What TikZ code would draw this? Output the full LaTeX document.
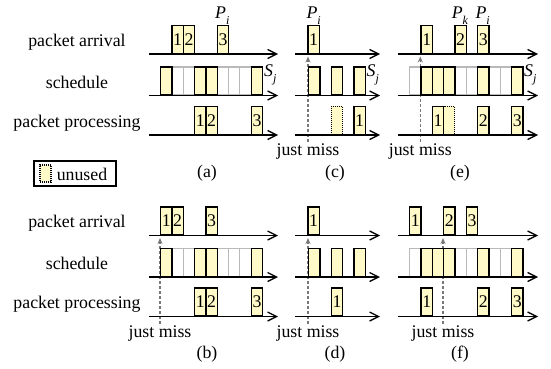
\documentclass[tikz,border=0pt]{standalone}
\usepackage{fontspec}
\setmainfont{Liberation Serif}
\usetikzlibrary{arrows.meta}
\definecolor{slotfill}{RGB}{255,250,200}
\definecolor{idle}{RGB}{185,185,185}
\definecolor{missline}{RGB}{120,120,120}
\newcommand{\slotw}{11.33}
\newcommand{\pk}[1]{\textit{P}\raisebox{-0.32em}{\fontsize{12}{12}\selectfont\textit{#1}}}
\newcommand{\sj}{\textit{S}\raisebox{-0.32em}{\fontsize{12}{12}\selectfont\textit{j}}}
\begin{document}
\begin{tikzpicture}[x=1pt,y=-1pt,
  font=\fontsize{17.8}{20}\selectfont,
  slotbox/.style={draw=black, line width=1.4pt, fill=slotfill,
    minimum width=11.33pt, minimum height=28pt, inner sep=0pt, anchor=south west},
  idlebox/.style={draw=idle, line width=1.1pt,
    minimum width=11.33pt, minimum height=28pt, inner sep=0pt, anchor=south west},
  sparebox/.style={slotbox, line width=1.1pt, dash pattern=on 1pt off 1pt},
  axis/.style={line width=1.5pt, -{Straight Barb[length=9pt,width=9pt,line width=1.3pt]}},
  miss/.style={draw=missline, dash pattern=on 3pt off 2pt, line width=1.1pt,
    -{Stealth[length=6pt,width=5pt]}},
  txt/.style={inner sep=0pt, anchor=center}]
\useasboundingbox (0,0) rectangle (551,369);

% ---------- row labels ----------
\foreach \r/\dy in {t/0, b/181.5} {
  \node[txt] (arr\r) at (77,{42+\dy}) {packet arrival};
  \node[txt] (sch\r) at (77,{82+\dy}) {schedule};
  \node[txt] (pro\r) at (77,{123+\dy}) {packet processing};
}

% ---------- legend ----------
\node[draw, line width=1.3pt, minimum width=82pt, minimum height=25pt, inner sep=0pt] (legend) at (75,173.5) {};
\node[sparebox, anchor=center, minimum width=11pt, minimum height=17pt] (legendbox) at (45.5,173.5) {};
\node[txt] (legendtxt) at (82,174) {unused};

% ---------- captions ----------
\node[txt] (capa) at (207,173) {(a)};
\node[txt] (capc) at (335,173) {(c)};
\node[txt] (cape) at (460,173) {(e)};
\node[txt] (capb) at (207,354.5) {(b)};
\node[txt] (capd) at (335,354.5) {(d)};
\node[txt] (capf) at (460,354.5) {(f)};

% ---------- "just miss" markers ----------
\foreach \n/\x/\dy in {c/308/0, e/420.3/0, b/160/181.5, d/308/181.5, f/443/181.5} {
  \coordinate (missfrom\n) at (\x,{142+\dy});
  \coordinate (missto\n) at (\x,{56.5+\dy});
  \draw[miss] (missfrom\n) -- (missto\n);
  \node[txt] (misstxt\n) at (\x,{152+\dy}) {just miss};
}

% ---------- panel (a) ----------
\foreach \k in {1,2,5,6,7} \node[idlebox] (ai\k) at ({160+\k*\slotw},95.5) {};
\foreach \k/\t in {1/1,2/2,5/3} \node[slotbox] (aa\k) at ({160+\k*\slotw},54) {\t};
\foreach \k in {0,3,4,8} \node[slotbox] (as\k) at ({160+\k*\slotw},95.5) {};
\foreach \k/\t in {3/1,4/2,8/3} \node[slotbox] (ap\k) at ({160+\k*\slotw},135) {\t};
\node[anchor=base, inner sep=0pt] (aPi) at ({160+5.5*\slotw},18.5) {\pk{i}};
\node[anchor=base west, inner sep=0pt] (aSj) at (264,77) {\sj};

% ---------- panel (b) ----------
\foreach \k in {1,2,5,6,7} \node[idlebox] (bi\k) at ({160+\k*\slotw},277) {};
\foreach \k/\t in {0/1,1/2,4/3} \node[slotbox] (ba\k) at ({160+\k*\slotw},235.5) {\t};
\foreach \k in {0,3,4,8} \node[slotbox] (bs\k) at ({160+\k*\slotw},277) {};
\foreach \k/\t in {3/1,4/2,8/3} \node[slotbox] (bp\k) at ({160+\k*\slotw},316.5) {\t};

% ---------- panel (c) ----------
\node[slotbox] (ca0) at (307.3,54) {1};
\foreach \k in {0,2,4} \node[slotbox] (cs\k) at ({308+\k*\slotw},95.5) {};
\node[sparebox] (cp2) at ({308+2*\slotw},135) {};
\node[slotbox] (cp4) at ({308+4*\slotw},135) {1};
\node[anchor=base, inner sep=0pt] (cPi) at ({308+0.5*\slotw},18.5) {\pk{i}};
\node[anchor=base west, inner sep=0pt] (cSj) at (366.5,77) {\sj};

% ---------- panel (d) ----------
\node[slotbox] (da0) at (307.3,235.5) {1};
\foreach \k in {0,2,4} \node[slotbox] (ds\k) at ({308+\k*\slotw},277) {};
\node[slotbox] (dp2) at ({308+2*\slotw},316.5) {1};

% ---------- panel (e) ----------
\foreach \k in {0,4,5,7,8} \node[idlebox] (ei\k) at ({409+\k*\slotw},95.5) {};
\foreach \k/\t in {1/1,4/2,6/3} \node[slotbox] (ea\k) at ({409+\k*\slotw},54) {\t};
\foreach \k in {1,2,3,6,9} \node[slotbox] (es\k) at ({409+\k*\slotw},95.5) {};
\foreach \k/\t in {2/1,6/2,9/3} \node[slotbox] (ep\k) at ({409+\k*\slotw},135) {\t};
\node[sparebox] (ep3) at ({409+3*\slotw},135) {};
\node[anchor=base, inner sep=0pt] (ePk) at ({409+4.5*\slotw},18.5) {\pk{k}};
\node[anchor=base, inner sep=0pt] (ePi) at ({409+6.5*\slotw},18.5) {\pk{i}};
\node[anchor=base west, inner sep=0pt] (eSj) at (524,77) {\sj};

% ---------- panel (f) ----------
\foreach \k in {0,4,5,7,8} \node[idlebox] (fi\k) at ({409+\k*\slotw},277) {};
\foreach \k/\t in {0/1,3/2,5/3} \node[slotbox] (fa\k) at ({409+\k*\slotw},235.5) {\t};
\foreach \k in {1,2,3,6,9} \node[slotbox] (fs\k) at ({409+\k*\slotw},277) {};
\foreach \k/\t in {1/1,6/2,9/3} \node[slotbox] (fp\k) at ({409+\k*\slotw},316.5) {\t};

% ---------- time axes ----------
\foreach \p/\xa/\xb in {ab/149/278, cd/295/380, ef/398/538} {
  \foreach \r/\y in {ta/54, ts/95.5, tp/135, ba/235.5, bs/277, bp/316.5} {
    \coordinate (ax\p\r s) at (\xa,\y);
    \coordinate (ax\p\r e) at (\xb,\y);
    \draw[axis] (ax\p\r s) -- (ax\p\r e);
  }
}
\end{tikzpicture}
\end{document}
